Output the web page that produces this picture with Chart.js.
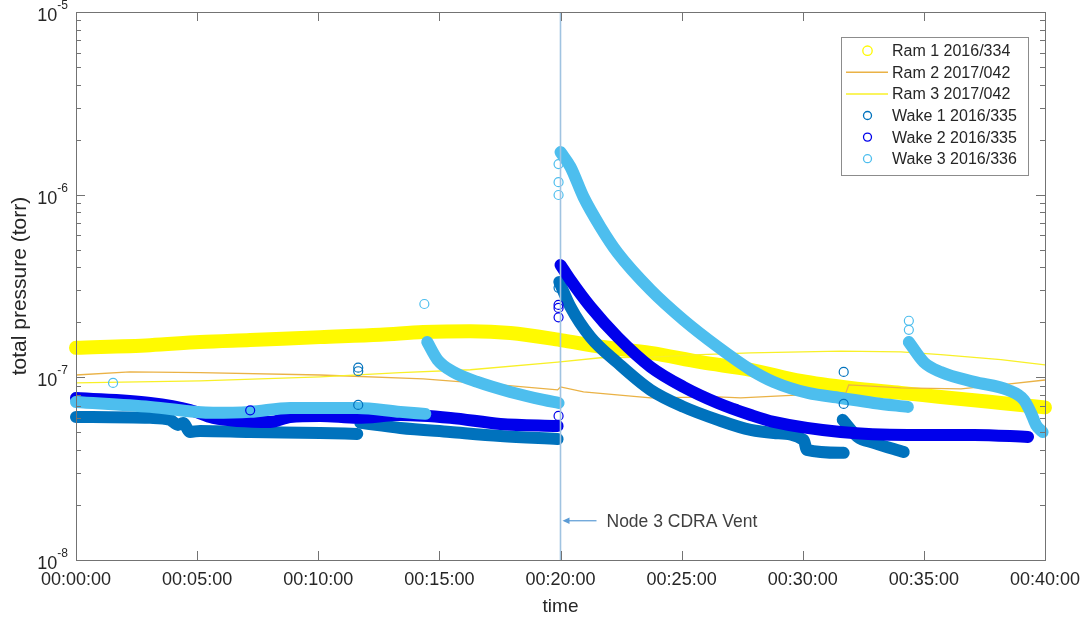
<!DOCTYPE html>
<html>
<head>
<meta charset="utf-8">
<script src="https://cdn.jsdelivr.net/npm/chart.js@4.4.1/dist/chart.umd.min.js"></script>
<style>
  html, body { margin: 0; padding: 0; background: #fff; }
  canvas { display: block; }
</style>
</head>
<body>
<canvas id="chart" width="1086" height="622"></canvas>
<script>
// time is minutes after 00:00:00, pressure in torr
const seriesNames = ['Ram 1 2016/334', 'Ram 2 2017/042', 'Ram 3 2017/042', 'Wake 1 2016/335', 'Wake 2 2016/335', 'Wake 3 2016/336'];
const xTicks = [0, 5, 10, 15, 20, 25, 30, 35, 40];
const yDecades = [1e-8, 1e-7, 1e-6, 1e-5];
const ventTime = 20;
const ventLabel = 'Node 3 CDRA Vent';
const ventLabelLevel = 1.64e-8;

const ram1 = [[0, 1.45e-7], [3.06, 1.50e-7], [5.12, 1.56e-7], [7.19, 1.60e-7], [10.08, 1.66e-7], [12.56, 1.71e-7], [14.34, 1.77e-7], [16.28, 1.79e-7], [17.93, 1.75e-7], [20.0, 1.60e-7], [21.65, 1.47e-7], [23.72, 1.36e-7], [25.79, 1.21e-7], [27.85, 1.10e-7], [29.92, 9.56e-8], [31.98, 8.75e-8], [34.05, 8.22e-8], [35.70, 7.81e-8], [38.18, 7.24e-8], [40, 6.85e-8]];
const ram2 = [[0, 1.03e-7], [2.23, 1.07e-7], [5.12, 1.06e-7], [10.08, 1.03e-7], [14.34, 9.80e-8], [17.52, 9.09e-8], [19.88, 8.53e-8], [20.0, 8.86e-8], [20.95, 8.32e-8], [23.72, 7.71e-8], [26.49, 7.81e-8], [27.44, 7.71e-8], [29.92, 8.01e-8], [31.78, 8.22e-8], [31.90, 9.09e-8], [34.05, 8.75e-8], [36.53, 8.64e-8], [38.18, 9.09e-8], [40, 9.67e-8]];
const ram3 = [[0, 9.32e-8], [5.12, 9.56e-8], [10.08, 1.005e-7], [13.39, 1.06e-7], [16.28, 1.10e-7], [19.88, 1.21e-7], [21.65, 1.28e-7], [23.72, 1.29e-7], [25.79, 1.33e-7], [27.85, 1.36e-7], [31.57, 1.39e-7], [34.05, 1.38e-7], [35.70, 1.33e-7], [38.18, 1.25e-7], [40, 1.17e-7]];

const wake1A = [[0, 6.07e-8], [3.06, 6.00e-8], [3.88, 5.85e-8], [4.21, 5.49e-8], [4.42, 5.63e-8], [4.71, 5.02e-8], [5.12, 5.09e-8], [7.19, 5.02e-8], [10.08, 4.96e-8], [11.61, 4.90e-8]];
const wake1B = [[11.74, 5.63e-8], [13.39, 5.28e-8], [15.45, 5.02e-8], [17.52, 4.78e-8], [19.88, 4.60e-8]];
const wake1C = [[19.95, 3.33e-7], [20.41, 2.43e-7], [21.24, 1.66e-7], [22.36, 1.20e-7], [23.72, 8.53e-8], [25.08, 6.89e-8], [26.49, 5.85e-8], [27.85, 5.15e-8], [28.80, 4.96e-8], [30.04, 4.54e-8], [30.17, 4.01e-8], [31.69, 3.86e-8]];
const wake1D = [[31.65, 5.85e-8], [32.27, 4.72e-8], [32.93, 4.38e-8], [34.17, 3.90e-8]];
const wake1Out = [[11.65, 1.13e-7], [11.65, 1.08e-7], [11.65, 7.06e-8], [19.92, 3.09e-7], [31.69, 1.07e-7], [31.69, 7.15e-8]];

const wake2A = [[0, 7.71e-8], [3.06, 7.24e-8], [4.71, 6.63e-8], [5.66, 6.00e-8], [8.02, 5.70e-8], [8.84, 6.07e-8], [10.08, 6.15e-8], [11.61, 6.00e-8], [13.39, 6.22e-8], [15.45, 6.00e-8], [17.52, 5.56e-8], [19.88, 5.42e-8]];
const wake2B = [[20.0, 4.12e-7], [20.41, 3.41e-7], [21.24, 2.43e-7], [22.36, 1.66e-7], [23.72, 1.14e-7], [25.08, 8.86e-8], [26.49, 7.24e-8], [27.85, 6.22e-8], [28.80, 5.70e-8], [31.57, 5.02e-8], [34.34, 4.84e-8], [37.07, 4.84e-8], [39.30, 4.72e-8]];
const wake2Out = [[7.19, 6.6e-8], [19.92, 2.49e-7], [19.92, 2.40e-7], [19.92, 2.13e-7], [19.92, 6.15e-8], [27.23, 6.72e-8]];

const wake3A = [[0, 7.33e-8], [3.06, 6.89e-8], [5.66, 6.39e-8], [7.19, 6.47e-8], [8.84, 6.80e-8], [10.08, 6.80e-8], [11.61, 6.80e-8], [13.39, 6.47e-8], [14.42, 6.31e-8]];
const wake3B = [[14.50, 1.56e-7], [14.92, 1.25e-7], [15.58, 1.07e-7], [16.57, 9.44e-8], [17.93, 8.32e-8], [19.30, 7.52e-8], [19.92, 7.24e-8]];
const wake3C = [[20.0, 1.71e-6], [20.41, 1.42e-6], [20.95, 9.71e-7], [21.65, 6.65e-7], [22.36, 4.80e-7], [23.72, 3.01e-7], [25.08, 2.06e-7], [26.49, 1.47e-7], [27.85, 1.10e-7], [28.80, 9.44e-8], [30.21, 8.22e-8], [31.57, 7.71e-8], [32.93, 7.24e-8], [34.34, 6.89e-8]];
const wake3D = [[34.38, 1.56e-7], [35.0, 1.21e-7], [35.70, 1.07e-7], [37.07, 9.44e-8], [38.47, 8.53e-8], [39.13, 7.52e-8], [39.42, 6.39e-8], [39.63, 5.49e-8], [39.9, 5.02e-8]];
const wake3Out = [[1.53, 9.32e-8], [14.38, 2.52e-7], [19.92, 1.47e-6], [19.92, 1.17e-6], [19.92, 9.96e-7], [34.38, 2.04e-7], [34.38, 1.82e-7]];

const FONT = '"Liberation Sans", Arial, sans-serif';
const seriesColors = ['rgb(255,250,0)', 'rgb(234,178,70)', 'rgb(248,240,40)', 'rgb(0,114,189)', 'rgb(0,0,235)', 'rgb(77,190,238)'];
const legendKinds = ['circle', 'line', 'line', 'circle', 'circle', 'circle'];

const pairs = arr => arr.map(([t, p]) => ({ x: t, y: p }));

function band(data, s, width) {
    return {
        label: seriesNames[s], data: pairs(data), showLine: true,
        borderColor: seriesColors[s], backgroundColor: seriesColors[s],
        borderWidth: width, pointRadius: 0, borderCapStyle: 'round', borderJoinStyle: 'round',
        cubicInterpolationMode: 'monotone', order: 60 - s * 10, clip: 8
    };
}
function thinLine(data, s) {
    return {
        label: seriesNames[s], data: pairs(data), showLine: true,
        borderColor: seriesColors[s], borderWidth: 1.3, pointRadius: 0,
        tension: 0, order: 60 - s * 10
    };
}
function circles(data, s) {
    return {
        label: seriesNames[s], data: pairs(data), showLine: false,
        pointStyle: 'circle', pointRadius: 4.5, borderWidth: 1.2,
        borderColor: seriesColors[s], backgroundColor: 'rgba(0,0,0,0)', order: 0
    };
}

const datasets = [
    band(ram1, 0, 14),
    thinLine(ram2, 1),
    thinLine(ram3, 2),
    band(wake1A, 3, 12), band(wake1B, 3, 12), band(wake1C, 3, 12), band(wake1D, 3, 12),
    band(wake2A, 4, 12), band(wake2B, 4, 12),
    band(wake3A, 5, 12), band(wake3B, 5, 12), band(wake3C, 5, 12), band(wake3D, 5, 12),
    circles(wake1Out, 3), circles(wake2Out, 4), circles(wake3Out, 5)
];

const fmtTime = v => {
    const m = String(Math.round(v)).padStart(2, '0');
    return '00:' + m + ':00';
};

// box, inside ticks, y labels with exponents, vent marker, legend
const decor = {
    id: 'decor',
    afterDatasetsDraw(chart) {
        const { ctx, chartArea: a, scales: { x, y } } = chart;
        ctx.save();

        // vent line and arrow label
        const vx = x.getPixelForValue(ventTime);
        ctx.strokeStyle = 'rgb(160,195,225)';
        ctx.lineWidth = 1.6;
        ctx.beginPath();
        ctx.moveTo(vx, a.top);
        ctx.lineTo(vx, a.bottom);
        ctx.stroke();

        const ly = y.getPixelForValue(ventLabelLevel);
        ctx.strokeStyle = 'rgb(91,155,213)';
        ctx.fillStyle = 'rgb(91,155,213)';
        ctx.lineWidth = 1.2;
        ctx.beginPath();
        ctx.moveTo(vx + 8, ly);
        ctx.lineTo(vx + 36, ly);
        ctx.stroke();
        ctx.beginPath();
        ctx.moveTo(vx + 2, ly);
        ctx.lineTo(vx + 9, ly - 3.2);
        ctx.lineTo(vx + 9, ly + 3.2);
        ctx.closePath();
        ctx.fill();
        ctx.fillStyle = '#404040';
        ctx.font = '17.5px ' + FONT;
        ctx.textAlign = 'left';
        ctx.textBaseline = 'middle';
        ctx.fillText(ventLabel, vx + 46, ly + 1);

        // frame
        ctx.strokeStyle = '#737373';
        ctx.lineWidth = 1;
        ctx.strokeRect(Math.round(a.left) + 0.5, Math.round(a.top) + 0.5, Math.round(a.right - a.left), Math.round(a.bottom - a.top));

        ctx.beginPath();
        xTicks.forEach(t => {
            const px = Math.round(x.getPixelForValue(t)) + 0.5;
            ctx.moveTo(px, a.bottom); ctx.lineTo(px, a.bottom - 9);
            ctx.moveTo(px, a.top); ctx.lineTo(px, a.top + 9);
        });
        yDecades.forEach((d, i) => {
            const py = Math.round(y.getPixelForValue(d)) + 0.5;
            ctx.moveTo(a.left, py); ctx.lineTo(a.left + 9, py);
            ctx.moveTo(a.right, py); ctx.lineTo(a.right - 9, py);
            if (i < yDecades.length - 1) {
                for (let m = 2; m <= 9; m++) {
                    const my = Math.round(y.getPixelForValue(m * d)) + 0.5;
                    ctx.moveTo(a.left, my); ctx.lineTo(a.left + 5, my);
                    ctx.moveTo(a.right, my); ctx.lineTo(a.right - 5, my);
                }
            }
        });
        ctx.stroke();

        // y labels 10^n
        ctx.fillStyle = '#262626';
        ctx.textBaseline = 'alphabetic';
        yDecades.forEach(d => {
            const py = y.getPixelForValue(d);
            const exp = String(Math.round(Math.log10(d)));
            ctx.font = '12px ' + FONT;
            const ew = ctx.measureText(exp).width;
            const ex = a.left - 8 - ew;
            ctx.textAlign = 'left';
            ctx.fillText(exp, ex, py - 3);
            ctx.font = '18px ' + FONT;
            ctx.textAlign = 'right';
            ctx.fillText('10', ex, py + 9);
        });

        // legend
        const bw = 187, bh = 138;
        const bx = a.right - 17 - bw, by = a.top + 25;
        ctx.fillStyle = '#fff';
        ctx.fillRect(bx, by, bw, bh);
        ctx.strokeStyle = '#8c8c8c';
        ctx.lineWidth = 1;
        ctx.strokeRect(Math.round(bx) + 0.5, Math.round(by) + 0.5, bw, bh);
        ctx.font = '16px ' + FONT;
        ctx.textAlign = 'left';
        ctx.textBaseline = 'middle';
        seriesNames.forEach((name, i) => {
            const ry = by + 13.7 + i * 21.6;
            ctx.strokeStyle = seriesColors[i];
            if (legendKinds[i] === 'line') {
                ctx.lineWidth = 1.5;
                ctx.beginPath();
                ctx.moveTo(bx + 5, ry); ctx.lineTo(bx + 47, ry);
                ctx.stroke();
            } else {
                ctx.lineWidth = 1.3;
                ctx.beginPath();
                ctx.arc(bx + 26.5, ry, i === 0 ? 4.7 : 4, 0, Math.PI * 2);
                ctx.stroke();
            }
            ctx.fillStyle = '#262626';
            ctx.fillText(name, bx + 51, ry + 1);
        });
        ctx.restore();
    }
};

new Chart(document.getElementById('chart'), {
    type: 'scatter',
    data: { datasets },
    options: {
        responsive: false,
        animation: false,
        events: [],
        layout: { padding: { left: 0, right: 41, top: 12, bottom: 0 } },
        plugins: { legend: { display: false }, tooltip: { enabled: false } },
        scales: {
            x: {
                type: 'linear', min: 0, max: 40,
                grid: { display: false, drawTicks: false },
                border: { display: false },
                afterBuildTicks: s => { s.ticks = xTicks.map(v => ({ value: v })); },
                afterFit: s => { s.height = 62; s.paddingLeft = 0; s.paddingRight = 0; },
                ticks: {
                    padding: 9, maxRotation: 0, autoSkip: false, color: '#262626',
                    font: { family: FONT, size: 18 }, callback: v => fmtTime(v)
                },
                title: {
                    display: true, text: 'time', color: '#262626',
                    font: { family: FONT, size: 19 }, padding: { top: 0, bottom: 4 }
                }
            },
            y: {
                type: 'logarithmic', min: 1e-8, max: 1e-5,
                grid: { display: false, drawTicks: false },
                border: { display: false },
                ticks: { display: false },
                afterFit: s => { s.width = 76; },
                title: {
                    display: true, text: 'total pressure (torr)', color: '#262626',
                    font: { family: FONT, size: 21 }, padding: { top: 8, bottom: 0 }
                }
            }
        }
    },
    plugins: [decor]
});
</script>
</body>
</html>
